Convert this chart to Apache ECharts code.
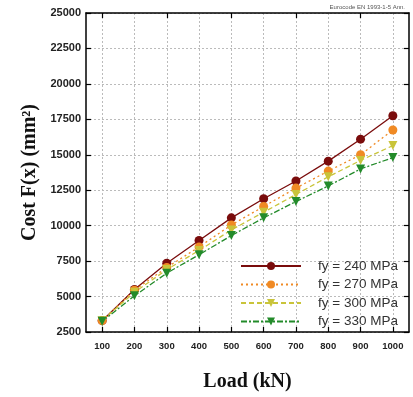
<!DOCTYPE html>
<html>
<head>
<meta charset="utf-8">
<script src="https://cdn.jsdelivr.net/npm/echarts@6/dist/echarts.min.js"></script>
<style>
  html, body { margin: 0; padding: 0; background: #fff; }
  #main { width: 413px; height: 397px; }
</style>
</head>
<body>
<div id="main"></div>
<script>
// load steps on the x axis
const loads = ["100", "200", "300", "400", "500", "600", "700", "800", "900", "1000"];

// cost values
const fy240 = [3300, 5500, 7350, 8950, 10550, 11900, 13150, 14550, 16100, 17750];
const fy270 = [3300, 5450, 7050, 8500, 10050, 11350, 12650, 13850, 15000, 16750];
const fy300 = [3300, 5300, 6900, 8250, 9700, 10950, 12200, 13450, 14600, 15650];
const fy330 = [3250, 5050, 6650, 7950, 9300, 10550, 11700, 12800, 14000, 14800];

const seriesNames = ["fy = 240 MPa", "fy = 270 MPa", "fy = 300 MPa", "fy = 330 MPa"];

const chart = echarts.init(document.getElementById("main"));

const gridLine = { show: true, lineStyle: { color: "#bbb", type: [2, 2], width: 1 } };
const frame = { show: true, onZero: false, lineStyle: { color: "#000", width: 1.5 } };
const innerTick = { show: true, inside: true, length: 5, alignWithLabel: true, lineStyle: { color: "#000", width: 1.2 } };

function makeLine(name, data, color, lineType, symbol, rotate) {
  return {
    name: name,
    type: "line",
    data: data,
    symbol: symbol,
    symbolSize: 9,
    symbolRotate: rotate,
    itemStyle: { color: color },
    lineStyle: { color: color, width: 1.3, type: lineType },
    z: 3
  };
}

chart.setOption({
  animation: false,
  graphic: [{
    type: "text",
    right: 8,
    top: 4,
    style: { text: "Eurocode EN 1993-1-5 Ann.", fontSize: 6, fill: "#555", fontFamily: "Liberation Sans" }
  }],
  grid: { left: 86, right: 4, top: 13, bottom: 59 },
  legend: {
    orient: "vertical",
    left: 235,
    top: 254,
    itemWidth: 60,
    itemHeight: 10,
    itemGap: 4.5,
    textStyle: { fontSize: 13.5, color: "#333", fontFamily: "Liberation Sans", padding: [0, 0, 0, 12] },
    data: seriesNames
  },
  xAxis: [{
    type: "category",
    data: loads,
    position: "bottom",
    name: "Load (kN)",
    nameLocation: "middle",
    nameGap: 40,
    nameTextStyle: { fontFamily: "Liberation Serif", fontWeight: "bold", fontSize: 20, color: "#111" },
    axisLine: frame,
    axisTick: innerTick,
    axisLabel: { margin: 9, fontSize: 9.5, fontWeight: "bold", color: "#222", fontFamily: "Liberation Sans" },
    splitLine: Object.assign({ alignWithLabel: true }, gridLine)
  }, {
    type: "category",
    data: loads,
    position: "top",
    axisLine: frame,
    axisTick: innerTick,
    axisLabel: { show: false },
    splitLine: { show: false }
  }],
  yAxis: [{
    type: "value",
    min: 2500,
    max: 25000,
    interval: 2500,
    name: "Cost F(x) (mm²)",
    nameLocation: "middle",
    nameGap: 46,
    nameTextStyle: { fontFamily: "Liberation Serif", fontWeight: "bold", fontSize: 20, color: "#111" },
    axisLine: frame,
    axisTick: innerTick,
    axisLabel: { margin: 5, fontSize: 11, fontWeight: "bold", color: "#222", fontFamily: "Liberation Sans", formatter: (v) => String(v) },
    splitLine: gridLine
  }, {
    type: "value",
    min: 2500,
    max: 25000,
    interval: 2500,
    position: "right",
    axisLine: frame,
    axisTick: innerTick,
    axisLabel: { show: false },
    splitLine: { show: false }
  }],
  series: [
    makeLine(seriesNames[0], fy240, "#7a0c0c", "solid", "circle", 0),
    makeLine(seriesNames[1], fy270, "#f08a24", [2, 3], "circle", 0),
    makeLine(seriesNames[2], fy300, "#c9c43a", [5, 3], "triangle", 180),
    makeLine(seriesNames[3], fy330, "#238b2a", [6, 2, 2, 2], "triangle", 180)
  ]
});
</script>
</body>
</html>
